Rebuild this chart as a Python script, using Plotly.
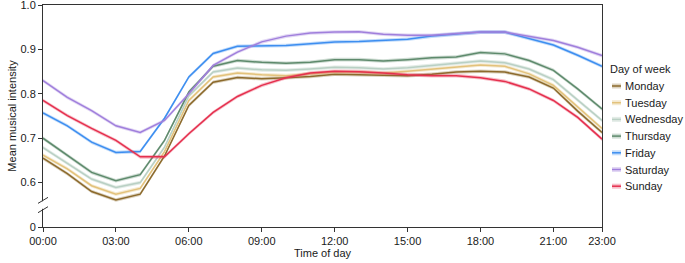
import plotly.graph_objects as go

hours = list(range(24))
tick_vals = [0, 3, 6, 9, 12, 15, 18, 21, 23]
tick_text = ["00:00", "03:00", "06:00", "09:00", "12:00", "15:00", "18:00", "21:00", "23:00"]
y_tick_vals = [0.5, 0.6, 0.7, 0.8, 0.9, 1.0]
y_tick_text = ["0", "0.6", "0.7", "0.8", "0.9", "1.0"]

days = ["Monday", "Tuesday", "Wednesday", "Thursday", "Friday", "Saturday", "Sunday"]

monday = [0.655, 0.620, 0.580, 0.561, 0.574, 0.660, 0.774, 0.826, 0.837, 0.834, 0.836, 0.839,
          0.844, 0.843, 0.841, 0.841, 0.844, 0.849, 0.851, 0.849, 0.838, 0.813, 0.761, 0.713]
tuesday = [0.662, 0.631, 0.593, 0.574, 0.587, 0.670, 0.785, 0.838, 0.847, 0.843, 0.841, 0.845,
           0.849, 0.849, 0.847, 0.851, 0.856, 0.860, 0.865, 0.862, 0.845, 0.819, 0.771, 0.722]
wednesday = [0.679, 0.643, 0.608, 0.589, 0.600, 0.680, 0.795, 0.849, 0.858, 0.854, 0.853, 0.856,
             0.860, 0.859, 0.856, 0.859, 0.864, 0.869, 0.874, 0.870, 0.856, 0.832, 0.785, 0.740]
thursday = [0.700, 0.661, 0.623, 0.604, 0.618, 0.695, 0.804, 0.862, 0.875, 0.871, 0.869, 0.871,
            0.877, 0.877, 0.874, 0.877, 0.881, 0.883, 0.893, 0.890, 0.875, 0.853, 0.811, 0.766]
friday = [0.757, 0.728, 0.691, 0.668, 0.670, 0.745, 0.838, 0.891, 0.907, 0.908, 0.909, 0.913,
          0.917, 0.918, 0.920, 0.923, 0.930, 0.935, 0.939, 0.939, 0.925, 0.910, 0.887, 0.862]
saturday = [0.830, 0.792, 0.762, 0.728, 0.713, 0.740, 0.800, 0.864, 0.894, 0.917, 0.930, 0.937,
            0.939, 0.940, 0.934, 0.932, 0.932, 0.935, 0.939, 0.939, 0.930, 0.920, 0.905, 0.886]
sunday = [0.785, 0.751, 0.722, 0.695, 0.658, 0.658, 0.710, 0.758, 0.794, 0.819, 0.836, 0.847,
          0.851, 0.850, 0.847, 0.843, 0.841, 0.841, 0.836, 0.828, 0.811, 0.785, 0.747, 0.698]

series = [monday, tuesday, wednesday, thursday, friday, saturday, sunday]
ci_half = [0.004, 0.004, 0.004, 0.004, 0.004, 0.004, 0.004]

colors = ["#8c6a2c", "#e3c27b", "#b9d0c4", "#5e8a6c", "#3d8ef0", "#a07fdc", "#e5304e"]
bands = ["rgba(140,106,44,0.3)", "rgba(227,194,123,0.35)", "rgba(185,208,196,0.4)",
         "rgba(94,138,108,0.3)", "rgba(61,142,240,0.3)", "rgba(160,127,220,0.3)",
         "rgba(229,48,78,0.3)"]

FONT = "Arial, Liberation Sans, Helvetica, sans-serif"
TXT = "#1a1a1a"

fig = go.Figure()
for name, vals, c, b, h in zip(days, series, colors, bands, ci_half):
    upper = [v + h for v in vals]
    lower = [v - h for v in vals]
    fig.add_trace(go.Scatter(x=hours, y=upper, mode="lines", line=dict(width=0),
                             showlegend=False, hoverinfo="skip"))
    fig.add_trace(go.Scatter(x=hours, y=lower, mode="lines", line=dict(width=0),
                             fill="tonexty", fillcolor=b, showlegend=False, hoverinfo="skip"))
    fig.add_trace(go.Scatter(x=hours, y=vals, mode="lines", name=name,
                             line=dict(color=c, width=1.5), showlegend=False))

# plot area in pixels: x 43..602, y 5..227
L, R, T, B = 43, 602, 5, 227
def px_to_paper_x(px):
    return (px - L) / (R - L)
def py_to_paper_y(py):
    return (B - py) / (B - T)

shapes = []
annotations = []
# axis break on left spine
shapes.append(dict(type="rect", xref="paper", yref="y", xsizemode="pixel", xanchor=0,
                   x0=-3, x1=3, y0=0.541, y1=0.558, fillcolor="white",
                   line=dict(width=0), layer="above"))
for yv in [0.560, 0.539]:
    shapes.append(dict(type="line", xref="paper", yref="y", xsizemode="pixel", xanchor=0,
                       ysizemode="pixel", yanchor=yv, x0=-5, x1=5, y0=-3, y1=3,
                       line=dict(color="#333333", width=1), layer="above"))

# manual legend
annotations.append(dict(text="Day of week", xref="paper", yref="paper",
                        x=px_to_paper_x(610), y=py_to_paper_y(69), xanchor="left",
                        yanchor="middle", showarrow=False, borderpad=0, borderwidth=0,
                        font=dict(family=FONT, size=11, color=TXT)))
for i, (name, c, b) in enumerate(zip(days, colors, bands)):
    py = 86 + i * 16.7
    yp = py_to_paper_y(py)
    shapes.append(dict(type="rect", xref="paper", yref="paper",
                       x0=px_to_paper_x(612), x1=px_to_paper_x(621),
                       y0=py_to_paper_y(py + 2.5), y1=py_to_paper_y(py - 2.5),
                       fillcolor=b, line=dict(width=0)))
    shapes.append(dict(type="line", xref="paper", yref="paper",
                       x0=px_to_paper_x(612), x1=px_to_paper_x(621), y0=yp, y1=yp,
                       line=dict(color=c, width=1.5)))
    annotations.append(dict(text=name, xref="paper", yref="paper",
                            x=px_to_paper_x(625), y=yp, xanchor="left", yanchor="middle",
                            showarrow=False, borderpad=0, borderwidth=0,
                            font=dict(family=FONT, size=11, color=TXT)))

axis_common = dict(showline=True, linecolor="#333333", linewidth=1, mirror=True,
                   ticks="outside", ticklen=4, tickcolor="#333333", tickwidth=1,
                   showgrid=False, zeroline=False, automargin=False,
                   ticklabeloverflow="allow",
                   tickfont=dict(family=FONT, size=11, color=TXT))

fig.update_layout(
    width=685, height=263,
    margin=dict(l=L, r=685 - R, t=T, b=263 - B, autoexpand=False),
    paper_bgcolor="white", plot_bgcolor="white",
    font=dict(family=FONT, size=11, color=TXT),
    xaxis=dict(range=[0, 23], tickvals=tick_vals, ticktext=tick_text,
               title=dict(text="Time of day", standoff=1,
                          font=dict(family=FONT, size=11, color=TXT)),
               **axis_common),
    yaxis=dict(range=[0.5, 1.0001], tickvals=y_tick_vals, ticktext=y_tick_text,
               title=dict(text="Mean musical intensity", standoff=1,
                          font=dict(family=FONT, size=11, color=TXT)),
               **axis_common),
    shapes=shapes, annotations=annotations,
    showlegend=False,
)

fig.write_html("out.html", config={"displayModeBar": False},
               post_script="document.body.style.margin='0';document.body.style.overflow='hidden';")
